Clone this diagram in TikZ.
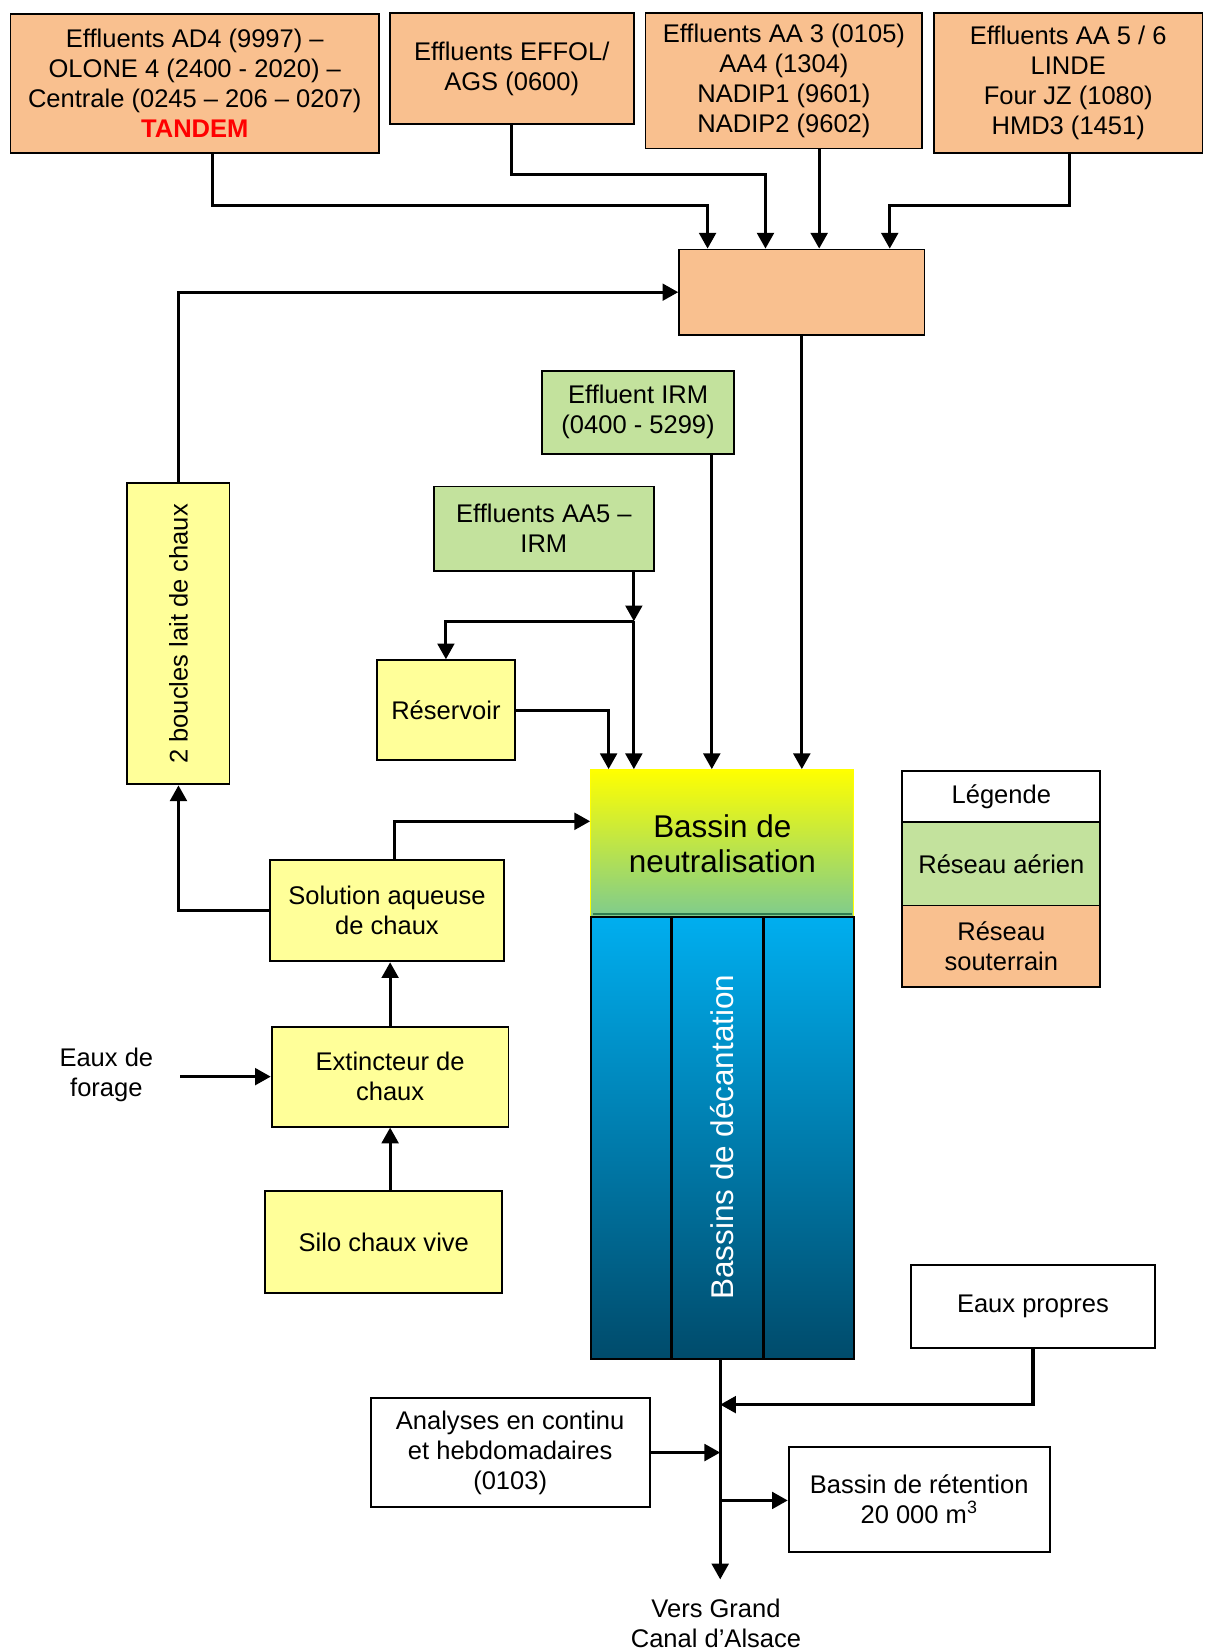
\documentclass[tikz,border=0pt]{standalone}
\usepackage{fontspec}
\setmainfont{Liberation Sans}
\usetikzlibrary{arrows.meta}

\definecolor{souterrain}{HTML}{F9C08F}
\definecolor{aerien}{HTML}{C3E29D}
\definecolor{chaux}{HTML}{FFFF99}
\definecolor{neutrtop}{HTML}{FFFF00}
\definecolor{neutrmid}{HTML}{DDEA62}
\definecolor{neutrbot}{HTML}{7ECB8E}
\definecolor{neutrline}{HTML}{2F7D50}
\definecolor{decanttop}{HTML}{00AEEF}
\definecolor{decantbot}{HTML}{004B6B}
\definecolor{rouge}{HTML}{FF0000}

\newcommand{\txtsize}{\fontsize{13.8pt}{16.2pt}\selectfont}
\newcommand{\bigtxt}{\fontsize{17pt}{19pt}\selectfont}

\begin{document}
\begin{tikzpicture}[x=0.02cm, y=-0.02cm,
  box/.style={draw=black, line width=1pt, align=center, inner sep=1pt, font=\txtsize},
  ug/.style={box, fill=souterrain},
  air/.style={box, fill=aerien},
  lime/.style={box, fill=chaux},
  plain/.style={box, fill=white},
  lbl/.style={align=center, font=\txtsize, inner sep=1pt},
  arr/.style={line width=1.7pt, -{Triangle[length=8.5pt, width=9pt]}},
]
\fill[white] (0,0) rectangle (1144,1568);
\useasboundingbox (0,0) rectangle (1144,1568);

% --- underground effluent sources ---
\node[ug, minimum width=7cm, minimum height=2.64cm] (ad4) at (185,79)
  {Effluents AD4 (9997) –\\OLONE 4 (2400 - 2020) –\\Centrale (0245 – 206 – 0207)\\{\color{rouge}\bfseries TANDEM}};
\node[ug, minimum width=4.64cm, minimum height=2.12cm] (effol) at (486,65)
  {Effluents EFFOL/\\AGS (0600)};
\node[ug, minimum width=5.26cm, minimum height=2.58cm] (aa3) at (744.5,76.5)
  {Effluents AA 3 (0105)\\AA4 (1304)\\NADIP1 (9601)\\NADIP2 (9602)};
\node[ug, minimum width=5.1cm, minimum height=2.66cm] (aa56) at (1014.5,78.5)
  {Effluents AA 5 / 6\\LINDE\\Four JZ (1080)\\HMD3 (1451)};
\node[ug, minimum width=4.66cm, minimum height=1.62cm] (hub) at (761.5,277.5) {};

% --- overhead effluent sources ---
\node[air, minimum width=3.64cm, minimum height=1.58cm] (irm) at (606,391.5)
  {Effluent IRM\\(0400 - 5299)};
\node[air, minimum width=4.18cm, minimum height=1.6cm] (aa5) at (516.5,502)
  {Effluents AA5 –\\IRM};

% --- lime preparation ---
\node[lime, minimum width=2.62cm, minimum height=1.9cm] (res) at (423.5,674.5) {Réservoir};
\node[lime, minimum width=1.94cm, minimum height=5.72cm] (boucles) at (169.5,602)
  {\rotatebox{90}{2 boucles lait de chaux}};
\node[lime, minimum width=4.46cm, minimum height=1.92cm] (sol) at (367.5,865)
  {Solution aqueuse\\de chaux};
\node[lime, minimum width=4.5cm, minimum height=1.9cm] (ext) at (370.5,1022.5)
  {Extincteur de\\chaux};
\node[lime, minimum width=4.5cm, minimum height=1.94cm] (silo) at (364.5,1179.5)
  {Silo chaux vive};
\node[lbl] (forage) at (101,1021) {Eaux de\\forage};

% --- basins ---
\node[draw=neutrtop, line width=0.6pt, top color=neutrtop, middle color=neutrmid, bottom color=neutrbot,
      minimum width=5cm, minimum height=2.8cm, align=center, font=\bigtxt] (neutr) at (686,801)
  {Bassin de\\neutralisation};
\draw[neutrline, line width=1.3pt] (563,868) -- (809,868);
\node[draw=black, line width=1pt, top color=decanttop, bottom color=decantbot,
      minimum width=5cm, minimum height=8.4cm] (dec) at (686,1081) {};
\draw[line width=1.6pt] (638,871) -- (638,1291);
\draw[line width=1.6pt] (725,871) -- (725,1291);
\node[text=white, font=\bigtxt, rotate=90] (dectxt) at (686,1080) {Bassins de décantation};

% --- legend ---
\node[plain, minimum width=3.76cm, minimum height=0.98cm] (leg) at (951,756.5) {Légende};
\node[air, minimum width=3.76cm, minimum height=1.58cm] (legair) at (951,820.5) {Réseau aérien};
\node[ug, minimum width=3.76cm, minimum height=1.54cm] (legug) at (951,898.5) {Réseau\\souterrain};

% --- outlet ---
\node[plain, minimum width=4.64cm, minimum height=1.58cm] (ep) at (981,1240.5) {Eaux propres};
\node[plain, minimum width=5.3cm, minimum height=2.06cm] (ana) at (484.5,1379.5)
  {Analyses en continu\\et hebdomadaires\\(0103)};
\node[plain, minimum width=4.96cm, minimum height=2cm] (ret) at (873,1424)
  {Bassin de rétention\\20 000 m\textsuperscript{3}};
\node[lbl] (vers) at (680,1542) {Vers Grand\\Canal d’Alsace};

% --- routing points ---
\coordinate (xA) at (202,0);
\coordinate (jA) at (672,195);
\coordinate (jB) at (727,166);
\coordinate (xC) at (778,0);
\coordinate (xD) at (1016,0);
\coordinate (jD) at (845,195);
\coordinate (xE) at (676,0);
\coordinate (xF) at (602,0);
\coordinate (jF) at (602,590);
\coordinate (xI) at (578,0);
\coordinate (kJ) at (375,780);
\coordinate (kF) at (171,1022.5);
\coordinate (xM) at (684,0);
\coordinate (kEnd) at (684,1500);
\coordinate (kP) at (684,1334);
\coordinate (kR) at (684,1425);

% --- connectors ---
\draw[arr] (ad4.south -| xA) |- (jA) -- (jA |- hub.north);
\draw[arr] (effol.south) |- (jB) -- (jB |- hub.north);
\draw[arr] (aa3.south -| xC) -- (xC |- hub.north);
\draw[arr] (aa56.south -| xD) |- (jD) -- (jD |- hub.north);
\draw[arr] (boucles.north) |- (hub.west);
\draw[arr] (hub.south) -- (hub.south |- neutr.north);
\draw[arr] (irm.south -| xE) -- (xE |- neutr.north);
\draw[arr] (aa5.south -| xF) -- (jF);
\draw[arr] (jF) -| (res.north);
\draw[arr] (jF) -- (jF |- neutr.north);
\draw[arr] (res.east) -| (xI |- neutr.north);
\draw[arr] (sol.west) -| (boucles.south);
\draw[arr] (sol.north -| kJ) -- (kJ) -- (kJ -| neutr.west);
\draw[arr] (ext.north) -- (sol.south -| ext.north);
\draw[arr] (silo.north -| ext.south) -- (ext.south);
\draw[arr] (kF) -- (kF -| ext.west);
\draw[arr] (dec.south -| xM) -- (kEnd);
\draw[arr] (ep.south) |- (kP);
\draw[arr] (ana.east) -- (ana.east -| xM);
\draw[arr] (kR) -- (kR -| ret.west);
\end{tikzpicture}
\end{document}
